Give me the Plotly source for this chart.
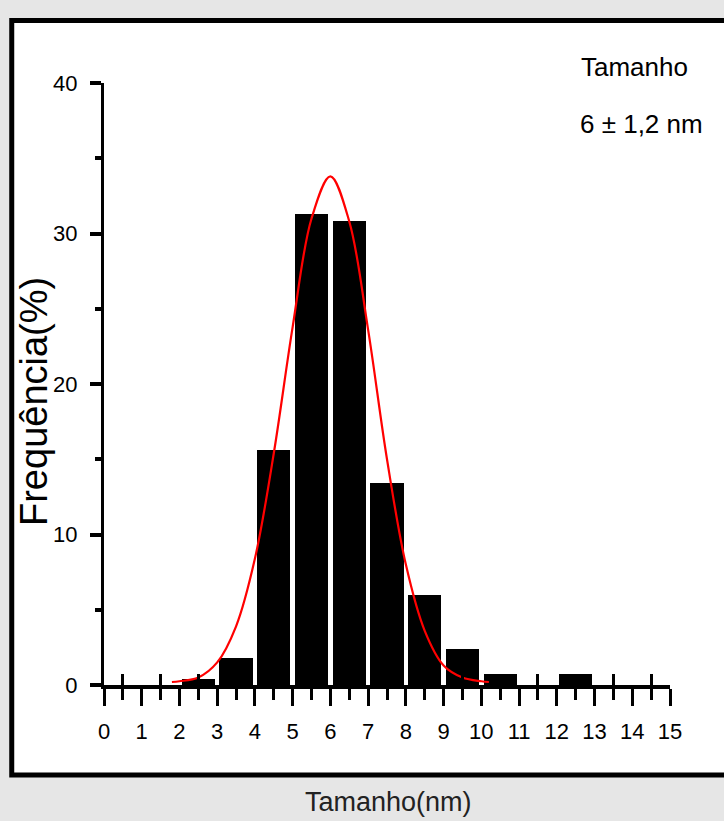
import plotly.graph_objects as go

# Histogram (bin centres, % frequency)
bin_centers = [2.5, 3.5, 4.5, 5.5, 6.5, 7.5, 8.5, 9.5, 10.5, 11.5, 12.5]
frequency = [0.4, 1.8, 15.6, 31.3, 30.8, 13.4, 6.0, 2.4, 0.7, 0.0, 0.7]

# Fitted curve, points
fit_x = [1.8, 2.0, 2.5, 3.0, 3.5, 4.0, 4.5, 5.0, 5.5, 6.0, 6.5, 7.0, 7.5, 8.0, 8.5, 9.0, 9.5, 10.0, 10.2]
fit_y = [0.2, 0.25, 0.5, 1.5, 3.9, 8.4, 15.4, 23.8, 31.0, 33.8, 30.8, 23.6, 15.0, 8.0, 3.6, 1.3, 0.5, 0.25, 0.2]

x_tick_vals = list(range(0, 16))
x_tick_text = [str(v) for v in x_tick_vals]
x_minor_vals = [v + 0.5 for v in range(0, 15)]
y_tick_vals = [0, 10, 20, 30, 40]
y_tick_text = [str(v) for v in y_tick_vals]

legend_title = "Tamanho"
legend_value = "6 ± 1,2 nm"
x_title = "Tamanho(nm)"
y_title = "Frequência(%)"

FONT = "Liberation Sans, Arial, sans-serif"

fig = go.Figure()
fig.add_trace(go.Bar(
    x=bin_centers, y=frequency, width=0.88,
    marker=dict(color="black", line=dict(width=0)),
    showlegend=False, hoverinfo="skip",
))
fig.add_trace(go.Scatter(
    x=fit_x, y=fit_y, mode="lines",
    line=dict(color="#ff0000", width=2.2, shape="spline"),
    showlegend=False, hoverinfo="skip",
))
# invisible trace to activate the second x axis (for the inside half of minor ticks)
fig.add_trace(go.Scatter(x=[0, 15], y=[0, 0], xaxis="x2", mode="lines",
                         line=dict(width=0), showlegend=False, hoverinfo="skip"))

fig.update_layout(
    width=724, height=821,
    margin=dict(l=104, r=54, t=83, b=136),
    paper_bgcolor="#e6e6e6",
    plot_bgcolor="rgba(0,0,0,0)",
    bargap=0,
    xaxis=dict(
        range=[0, 15], tickvals=x_tick_vals, ticktext=x_tick_text,
        ticks="outside", ticklen=17, tickwidth=3, tickcolor="black",
        showline=True, linecolor="black", linewidth=4,
        showgrid=False, zeroline=False,
        minor=dict(tickvals=x_minor_vals, ticks="outside", ticklen=11, tickwidth=3,
                   tickcolor="black", showgrid=False),
        tickfont=dict(family=FONT, size=22, color="black"),
        ticklabelstandoff=7,
    ),
    xaxis2=dict(
        range=[0, 15], overlaying="x", anchor="y", side="bottom",
        tickvals=x_minor_vals, ticks="inside", ticklen=11, tickwidth=3, tickcolor="black",
        showticklabels=False, showline=False, showgrid=False, zeroline=False,
    ),
    yaxis=dict(
        range=[0, 40], tickvals=y_tick_vals, ticktext=y_tick_text,
        ticks="outside", ticklen=11, tickwidth=4, tickcolor="black",
        showline=True, linecolor="black", linewidth=3,
        showgrid=False, zeroline=False,
        minor=dict(dtick=5, ticks="outside", ticklen=6, tickwidth=4,
                   tickcolor="black", showgrid=False),
        tickfont=dict(family=FONT, size=22, color="black"),
        ticklabelstandoff=8,
    ),
    shapes=[dict(
        type="rect", xref="paper", yref="paper",
        x0=-0.163, x1=1.11, y0=-0.1495, y1=1.104,
        fillcolor="white", line=dict(color="black", width=5), layer="below",
    )],
    annotations=[
        dict(text=legend_title, xref="paper", yref="paper", x=(579 - 104) / 566, y=(685 - 67) / 602,
             xanchor="left", yanchor="middle", showarrow=False,
             font=dict(family=FONT, size=26, color="black")),
        dict(text=legend_value, xref="paper", yref="paper", x=(578 - 104) / 566, y=(685 - 124) / 602,
             xanchor="left", yanchor="middle", showarrow=False,
             font=dict(family=FONT, size=26, color="black")),
        dict(text=x_title, xref="paper", yref="paper", x=(388 - 104) / 566, y=(685 - 802) / 602,
             xanchor="center", yanchor="middle", showarrow=False,
             font=dict(family=FONT, size=27, color="#222222")),
        dict(text=y_title, xref="paper", yref="paper", x=(34 - 104) / 566, y=(685 - 402) / 602,
             xanchor="center", yanchor="middle", showarrow=False, textangle=-90,
             font=dict(family=FONT, size=38, color="black")),
    ],
)

fig.write_html(
    "out.html",
    config={"displayModeBar": False},
    post_script="document.body.style.margin='0';document.body.style.overflow='hidden';",
)
